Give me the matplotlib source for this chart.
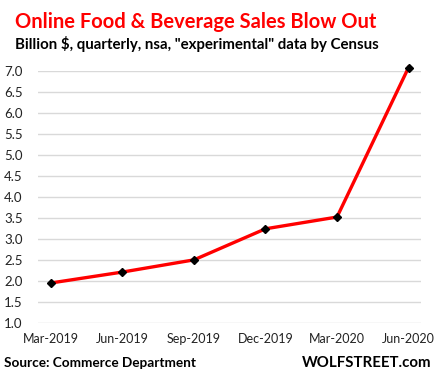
import matplotlib
matplotlib.use("Agg")
import matplotlib.pyplot as plt

# data
quarters = ["Mar-2019", "Jun-2019", "Sep-2019", "Dec-2019", "Mar-2020", "Jun-2020"]
sales = [1.96, 2.22, 2.51, 3.25, 3.53, 7.09]
y_ticks = [1.0, 1.5, 2.0, 2.5, 3.0, 3.5, 4.0, 4.5, 5.0, 5.5, 6.0, 6.5, 7.0]

plt.rcParams['font.family'] = ['Lato', 'DejaVu Sans']

fig = plt.figure(figsize=(4.44, 3.76), dpi=100)
ax = fig.add_axes([38 / 444, 1 - 323.3 / 376, (420.7 - 38) / 444, (323.3 - 71.3) / 376])

x = list(range(len(quarters)))
ax.plot(x, sales, color='#ff0000', lw=2.4, marker='D', ms=4.5,
        mfc='black', mec='black', clip_on=False, zorder=3)

ax.set_xlim(-0.18, 5.17)
ax.set_ylim(1.0, 7.0)
ax.set_yticks(y_ticks)
ax.set_yticklabels([f"{v:.1f}" for v in y_ticks])
ax.set_xticks(x)
ax.set_xticklabels(quarters)
ax.grid(axis='y', color='#d9d9d9', lw=1)
ax.set_axisbelow(True)
for s in ax.spines.values():
    s.set_visible(False)
ax.tick_params(length=0, colors='#222222')
ax.tick_params(axis='y', pad=11, labelsize=9.5)
ax.tick_params(axis='x', pad=7, labelsize=9)

fig.text(15 / 444, 1 - 22 / 376, "Online Food & Beverage Sales Blow Out",
         color='#ff0000', fontsize=14.5, fontweight='bold', va='center')
fig.text(15 / 444, 1 - 44 / 376, 'Billion $, quarterly, nsa, "experimental" data by Census',
         color='black', fontsize=10.8, fontweight='bold', va='center')
fig.text(4 / 444, 1 - 363 / 376, "Source: Commerce Department",
         color='black', fontsize=9.8, fontweight='bold', va='center')
fig.text(431 / 444, 1 - 363 / 376, "WOLFSTREET.com",
         color='black', fontsize=10.8, fontweight='bold', va='center', ha='right')

fig.savefig("out.png", dpi=100)
